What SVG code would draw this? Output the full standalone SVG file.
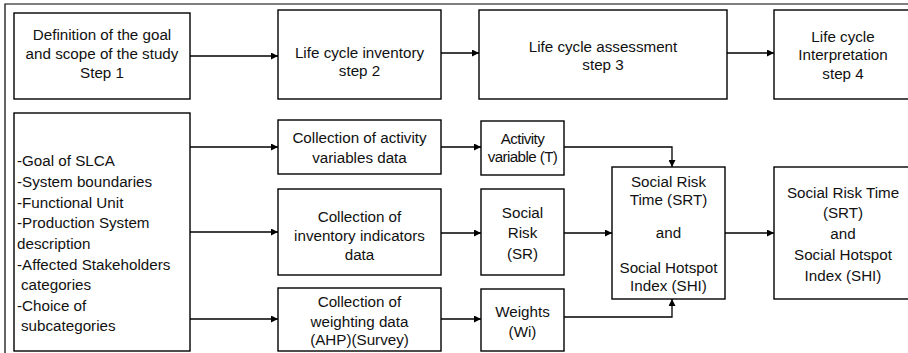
<svg xmlns="http://www.w3.org/2000/svg" width="908" height="353" viewBox="0 0 908 353">
<style>
.b{fill:#fff;stroke:#000;stroke-width:1.4}
text{font-family:Arial,'Liberation Sans',Helvetica,sans-serif;font-size:15.2px;fill:#111}
.t{text-anchor:middle}
.c{fill:none;stroke:#000;stroke-width:1.3}
</style>
<defs>
<marker id="a" viewBox="0 0 10 10" refX="10" refY="5" markerWidth="7" markerHeight="7" markerUnits="userSpaceOnUse" orient="auto">
<path d="M0,0 L10,5 L0,10 z" fill="#000"/>
</marker>
</defs>
<rect width="908" height="353" fill="#fff"/>
<g id="frame"><path d="M5,353 V4 H908" fill="none" stroke="#000" stroke-width="1.2"/></g>
<g id="connectors">
<path class="c" d="M190,56 H278" marker-end="url(#a)"/>
<path class="c" d="M441,53 H479" marker-end="url(#a)"/>
<path class="c" d="M727,53 H774" marker-end="url(#a)"/>
<path class="c" d="M190,147 H278" marker-end="url(#a)"/>
<path class="c" d="M190,232 H278" marker-end="url(#a)"/>
<path class="c" d="M190,319 H278" marker-end="url(#a)"/>
<path class="c" d="M441,147 H481" marker-end="url(#a)"/>
<path class="c" d="M441,233 H481" marker-end="url(#a)"/>
<path class="c" d="M441,319 H481" marker-end="url(#a)"/>
<path class="c" d="M564,147 H672 V167" marker-end="url(#a)"/>
<path class="c" d="M564,233 H612" marker-end="url(#a)"/>
<path class="c" d="M564,317 H672 V299" marker-end="url(#a)"/>
<path class="c" d="M725,233 H774" marker-end="url(#a)"/>
</g>
<g id="step1"><rect class="b" x="14" y="13" width="176" height="86"/>
<text class="t" x="102" y="40">Definition of the goal</text>
<text class="t" x="102" y="59">and scope of the study</text>
<text class="t" x="102" y="78">Step 1</text></g>
<g id="step2"><rect class="b" x="278" y="10" width="163" height="89"/>
<text class="t" x="359.5" y="58">Life cycle inventory</text>
<text class="t" x="359.5" y="76">step 2</text></g>
<g id="step3"><rect class="b" x="479" y="10" width="248" height="89"/>
<text class="t" x="603" y="52">Life cycle assessment</text>
<text class="t" x="603" y="70">step 3</text></g>
<g id="step4"><rect class="b" x="774" y="10" width="140" height="89"/>
<text class="t" x="843" y="42">Life cycle</text>
<text class="t" x="843" y="60">Interpretation</text>
<text class="t" x="843" y="79">step 4</text></g>
<g id="scope"><rect class="b" x="14" y="113" width="176" height="238"/>
<text x="17" y="166">-Goal of SLCA</text>
<text x="17" y="187">-System boundaries</text>
<text x="17" y="208">-Functional Unit</text>
<text x="17" y="228">-Production System</text>
<text x="17" y="249">description</text>
<text x="17" y="270">-Affected Stakeholders</text>
<text x="21" y="290">categories</text>
<text x="17" y="311">-Choice of</text>
<text x="21" y="331">subcategories</text></g>
<g id="coll-activity"><rect class="b" x="278" y="120" width="163" height="54"/>
<text class="t" x="359.5" y="143">Collection of activity</text>
<text class="t" x="359.5" y="163">variables data</text></g>
<g id="coll-inventory"><rect class="b" x="278" y="189" width="163" height="86"/>
<text class="t" x="359.5" y="222">Collection of</text>
<text class="t" x="359.5" y="241">inventory indicators</text>
<text class="t" x="359.5" y="260">data</text></g>
<g id="coll-weighting"><rect class="b" x="278" y="288" width="163" height="63"/>
<text class="t" x="359.5" y="307">Collection of</text>
<text class="t" x="359.5" y="327">weighting data</text>
<text class="t" x="359.5" y="345">(AHP)(Survey)</text></g>
<g id="activity"><rect class="b" x="481" y="121" width="83" height="54"/>
<text class="t" x="522.5" y="144" letter-spacing="-0.6">Activity</text>
<text class="t" x="522.5" y="162" letter-spacing="-0.6">variable (T)</text></g>
<g id="sr"><rect class="b" x="481" y="189" width="83" height="86"/>
<text class="t" x="522.5" y="218">Social</text>
<text class="t" x="522.5" y="238">Risk</text>
<text class="t" x="522.5" y="259">(SR)</text></g>
<g id="weights"><rect class="b" x="481" y="289" width="83" height="62"/>
<text class="t" x="522.5" y="317">Weights</text>
<text class="t" x="522.5" y="337">(Wi)</text></g>
<g id="srt"><rect class="b" x="612" y="167" width="113" height="132"/>
<text class="t" x="668.5" y="187">Social Risk</text>
<text class="t" x="668.5" y="205">Time (SRT)</text>
<text class="t" x="668.5" y="238">and</text>
<text class="t" x="668.5" y="273">Social Hotspot</text>
<text class="t" x="668.5" y="291">Index (SHI)</text></g>
<g id="result"><rect class="b" x="774" y="167" width="140" height="132"/>
<text class="t" x="843" y="198">Social Risk Time</text>
<text class="t" x="843" y="218">(SRT)</text>
<text class="t" x="843" y="239">and</text>
<text class="t" x="843" y="260">Social Hotspot</text>
<text class="t" x="843" y="281">Index (SHI)</text></g>
</svg>
